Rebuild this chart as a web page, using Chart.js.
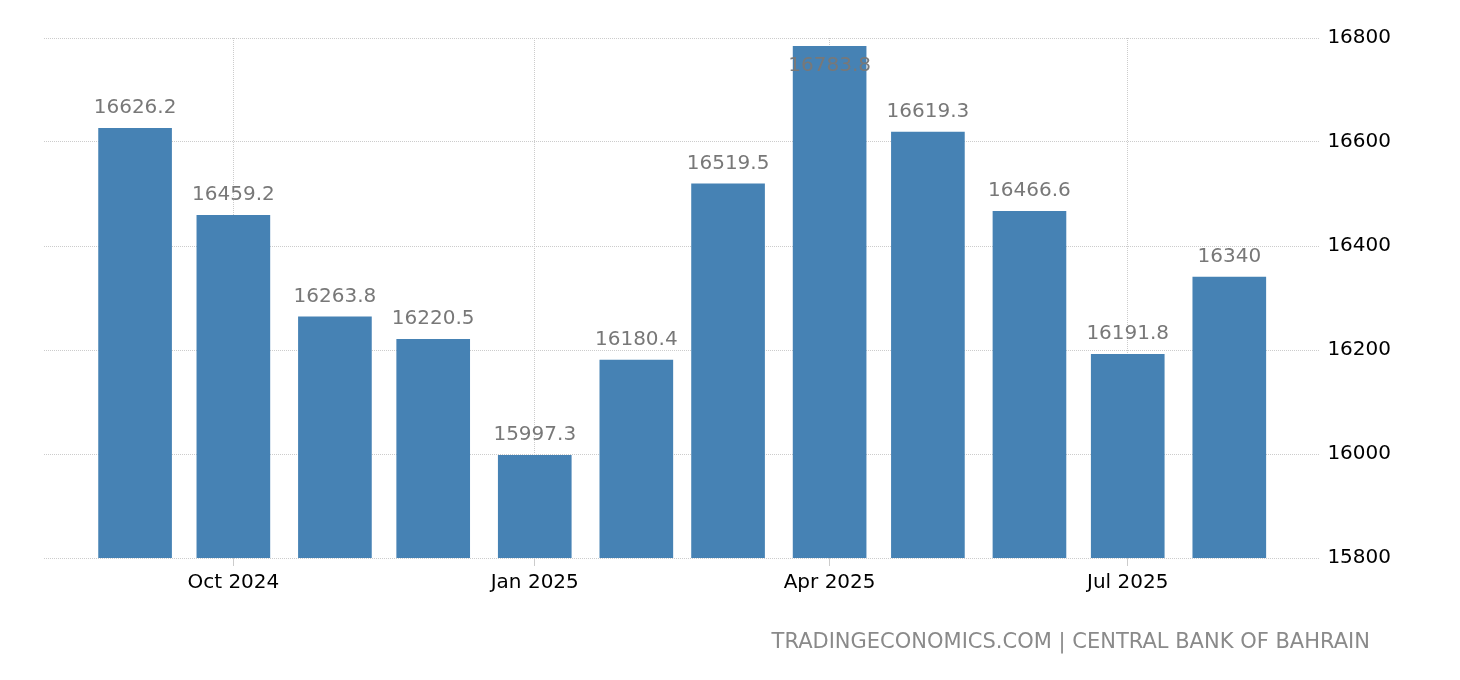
<!DOCTYPE html>
<html>
<head>
<meta charset="utf-8">
<script src="https://cdn.jsdelivr.net/npm/chart.js@4/dist/chart.umd.min.js"></script>
<style>
  html, body { margin: 0; padding: 0; background: #fff; }
  #wrap { position: relative; width: 1460px; height: 680px; }
  #footer { position: absolute; right: 90px; top: 629px; font-family: "DejaVu Sans", sans-serif; font-size: 21px; color: #8a8a8a; white-space: nowrap; }
</style>
</head>
<body>
<div id="wrap">
  <canvas id="c" width="1460" height="680"></canvas>
  <div id="footer">TRADINGECONOMICS.COM | CENTRAL BANK OF BAHRAIN</div>
</div>
<script>
const months = ['2024-09','2024-10','2024-11','2024-12','2025-01','2025-02','2025-03','2025-04','2025-05','2025-06','2025-07','2025-08'];
const values = [16626.2, 16459.2, 16263.8, 16220.5, 15997.3, 16180.4, 16519.5, 16783.8, 16619.3, 16466.6, 16191.8, 16340];
const tickMonths = ['2024-10','2025-01','2025-04','2025-07'];
const tickLabels = ['Oct 2024','Jan 2025','Apr 2025','Jul 2025'];
const yTicks = [15800, 16000, 16200, 16400, 16600, 16800];

const BASE = Date.UTC(2024, 8, 1);
function dayOf(m) {
  const [y, mo] = m.split('-').map(Number);
  return (Date.UTC(y, mo - 1, 1) - BASE) / 86400000;
}
const points = months.map((m, i) => ({ x: dayOf(m), y: values[i] }));
const tickDays = tickMonths.map(dayOf);

const FONT = '"DejaVu Sans", sans-serif';

const valueLabels = {
  id: 'valueLabels',
  afterDatasetsDraw(chart) {
    const ctx = chart.ctx;
    const meta = chart.getDatasetMeta(0);
    ctx.save();
    ctx.font = '20px ' + FONT;
    ctx.fillStyle = '#787878';
    ctx.textAlign = 'center';
    ctx.textBaseline = 'alphabetic';
    meta.data.forEach((bar, i) => {
      let y = bar.y - 15;
      if (y < 71) y = 71;
      ctx.fillText(String(values[i]), bar.x, y);
    });
    ctx.restore();
  }
};

new Chart(document.getElementById('c'), {
  type: 'bar',
  data: {
    datasets: [{
      data: points,
      backgroundColor: '#4682B4',
      borderWidth: 0,
      barThickness: 73
    }]
  },
  options: {
    responsive: false,
    animation: false,
    layout: { padding: { left: 44, right: 62, top: 38, bottom: 80 } },
    plugins: { legend: { display: false }, tooltip: { enabled: false } },
    scales: {
      x: {
        type: 'linear',
        offset: false,
        min: -27.8,
        max: 361.8,
        afterBuildTicks(scale) { scale.ticks = tickDays.map(v => ({ value: v })); },
        ticks: {
          autoSkip: false,
          maxRotation: 0,
          color: '#000',
          font: { family: FONT, size: 20 },
          padding: 5,
          callback(v) { const k = tickDays.indexOf(v); return k >= 0 ? tickLabels[k] : ''; }
        },
        grid: { offset: false, color: '#cccccc', tickLength: 8, tickColor: '#cccccc', tickBorderDash: [] },
        border: { display: false, dash: [1, 1] }
      },
      y: {
        position: 'right',
        min: 15800,
        max: 16800,
        afterBuildTicks(scale) { scale.ticks = yTicks.map(v => ({ value: v })); },
        ticks: {
          color: '#000',
          font: { family: FONT, size: 20 },
          padding: 7,
          callback(v) { return String(v); }
        },
        grid: { color: '#cccccc', drawTicks: false },
        border: { display: false, dash: [1, 1] }
      }
    }
  },
  plugins: [valueLabels]
});
</script>
</body>
</html>
